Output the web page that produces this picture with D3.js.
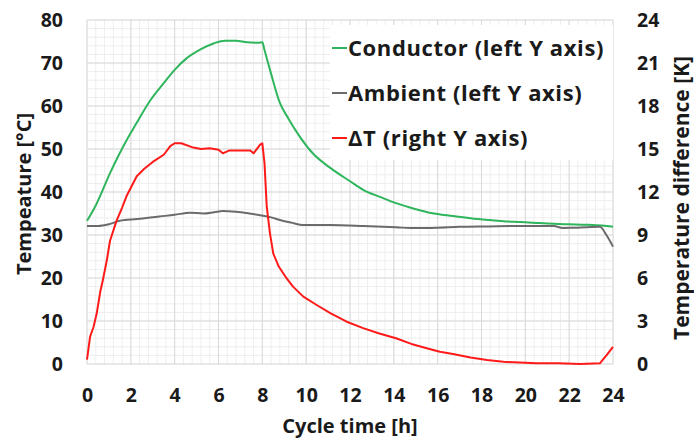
<!DOCTYPE html>
<html>
<head>
<meta charset="utf-8">
<script src="https://cdnjs.cloudflare.com/ajax/libs/d3/7.8.5/d3.min.js"></script>
<style>
  body { margin: 0; background: #fff; }
  svg text { font-family: "Open Sans", Lato, sans-serif; font-weight: bold; fill: #1a1a1a; }
</style>
</head>
<body>
<svg id="chart" width="694" height="441"></svg>
<script>
// values
var condTime = [0,0.2,0.45,1.05,1.8,2.2,2.9,3.5,4,4.5,5.2,5.8,6.3,6.8,7.3,7.8,8.0,8.1,8.35,8.8,9.2,9.6,10.3,11.1,12,12.6,13.4,14.1,15,15.7,16.7,17.5,18.3,19,19.8,20.5,21.3,22,22.8,23.5,24];
var condTemp = [33.3,35,37.4,44.4,52,55.5,61.4,65.3,68.4,70.9,73.2,74.6,75.2,75.2,74.8,74.7,74.8,73,68.4,60.7,57,53.7,49,45.6,42.5,40.5,38.8,37.4,36,35.1,34.4,33.9,33.5,33.2,33.0,32.8,32.6,32.5,32.4,32.2,31.9];

var ambTime = [0,0.5,1,1.5,2.3,3.3,4,4.7,5.3,5.8,6.2,6.8,7.4,7.9,8.4,8.8,9.3,9.9,11.1,12.6,14.1,14.9,16,17,18.3,19.8,21.3,21.7,22.2,23.4,23.7,24];
var ambTemp = [32.1,32.1,32.5,33.3,33.7,34.3,34.7,35.2,35.0,35.3,35.6,35.4,35.0,34.6,34.1,33.5,32.9,32.3,32.3,32.1,31.8,31.6,31.7,31.9,32.0,32.1,32.1,31.6,31.7,31.9,30.0,27.3];

var dtTime = [0,0.14,0.3,0.44,0.6,0.73,0.9,1.05,1.35,1.6,1.8,2.27,2.6,3.0,3.5,3.8,4.0,4.3,4.85,5.2,5.6,6.0,6.2,6.5,7.0,7.45,7.6,7.9,8.0,8.1,8.2,8.35,8.5,8.75,9.05,9.4,9.87,10.5,11.1,11.85,12.6,13.3,14.1,14.8,15.5,16.1,16.7,17.5,18.25,19,19.75,20.5,21.5,22.5,23.4,23.7,24];
var dtVal = [0.3,1.9,2.6,3.5,5.0,5.9,7.2,8.6,10.0,10.9,11.7,13.1,13.6,14.1,14.6,15.2,15.4,15.4,15.1,15.0,15.05,14.95,14.7,14.9,14.9,14.9,14.7,15.3,15.4,14.0,11.0,9.1,7.7,6.8,6.1,5.4,4.7,4.1,3.55,2.95,2.5,2.15,1.8,1.4,1.1,0.85,0.7,0.45,0.28,0.15,0.1,0.05,0.05,0.0,0.05,0.6,1.2];

var xTicks = [0,2,4,6,8,10,12,14,16,18,20,22,24];
var leftTicks = [0,10,20,30,40,50,60,70,80];
var rightTicks = [0,3,6,9,12,15,18,21,24];

var series = [
  {name: "Conductor (left Y axis)", t: condTime, v: condTemp, axis: "left", color: "#2fb55c"},
  {name: "Ambient (left Y axis)", t: ambTime, v: ambTemp, axis: "left", color: "#6b6b6b"},
  {name: "\u0394T (right Y axis)", t: dtTime, v: dtVal, axis: "right", color: "#ff1a1a"}
];

window.onload = function() {
  makeChart();
};

function makeChart() {

var svg = d3.select("#chart");
var pl = 87, pr = 613, pt = 20, pb = 364;

var x = d3.scaleLinear().domain([0, 24]).range([pl, pr]);
var yL = d3.scaleLinear().domain([0, 80]).range([pb, pt]);
var yR = d3.scaleLinear().domain([0, 24]).range([pb, pt]);

// minor grid
svg.append("g").selectAll("line").data(d3.range(0, 24.01, 0.4)).enter().append("line")
  .attr("x1", d => x(d)).attr("x2", d => x(d)).attr("y1", pt).attr("y2", pb)
  .attr("stroke", "#eeeeee").attr("stroke-width", 1);
svg.append("g").selectAll("line").data(d3.range(0, 80.01, 2)).enter().append("line")
  .attr("y1", d => yL(d)).attr("y2", d => yL(d)).attr("x1", pl).attr("x2", pr)
  .attr("stroke", "#eeeeee").attr("stroke-width", 1);

// major grid
svg.append("g").selectAll("line").data(xTicks).enter().append("line")
  .attr("x1", d => x(d)).attr("x2", d => x(d)).attr("y1", pt).attr("y2", pb)
  .attr("stroke", "#d9d9d9").attr("stroke-width", 1);
svg.append("g").selectAll("line").data(leftTicks).enter().append("line")
  .attr("y1", d => yL(d)).attr("y2", d => yL(d)).attr("x1", pl).attr("x2", pr)
  .attr("stroke", "#d9d9d9").attr("stroke-width", 1);

// axes (labels only)
var xAxis = svg.append("g").attr("transform", "translate(0," + (pb + 18) + ")")
  .call(d3.axisBottom(x).tickValues(xTicks).tickSize(0).tickPadding(6));
var lAxis = svg.append("g").attr("transform", "translate(" + (pl - 24) + ",0)")
  .call(d3.axisLeft(yL).tickValues(leftTicks).tickSize(0).tickPadding(0));
var rAxis = svg.append("g").attr("transform", "translate(" + (pr + 24) + ",0)")
  .call(d3.axisRight(yR).tickValues(rightTicks).tickSize(0).tickPadding(0));
[xAxis, lAxis, rAxis].forEach(function(a) {
  a.select(".domain").remove();
  a.selectAll("text").style("font-size", "19.5px").attr("fill", "#1a1a1a");
});

// lines
series.forEach(function(s) {
  var yS = s.axis === "left" ? yL : yR;
  var line = d3.line().x((d, i) => x(s.t[i])).y(d => yS(d));
  if (s.axis === "left") line.curve(d3.curveMonotoneX);
  svg.append("path").datum(s.v)
    .attr("d", line)
    .attr("fill", "none")
    .attr("stroke", s.color)
    .attr("stroke-width", 2)
    .attr("stroke-linejoin", "round");
});

// legend
svg.append("rect").attr("x", 330).attr("y", 25).attr("width", pr - 330).attr("height", 135).attr("fill", "#fff");
var leg = svg.append("g").selectAll("g").data(series).enter().append("g")
  .attr("transform", (d, i) => "translate(332," + (48 + i * 45) + ")");
leg.append("line").attr("x1", 0).attr("x2", 15).attr("stroke", d => d.color).attr("stroke-width", 2);
leg.append("text").attr("x", 16).attr("dy", "0.36em").style("font-size", "22px")
  .style("letter-spacing", "0.6px").text(d => d.name);

// axis titles
svg.append("text").attr("x", (pl + pr) / 2).attr("y", 433).attr("text-anchor", "middle")
  .style("font-size", "20px").text("Cycle time [h]");
svg.append("text").attr("transform", "translate(31,194) rotate(-90)").attr("text-anchor", "middle")
  .style("font-size", "20px").text("Tempeature [\u00b0C]");
svg.append("text").attr("transform", "translate(689,198) rotate(-90)").attr("text-anchor", "middle")
  .style("font-size", "21px").text("Temperature difference [K]");
}
</script>
</body>
</html>
